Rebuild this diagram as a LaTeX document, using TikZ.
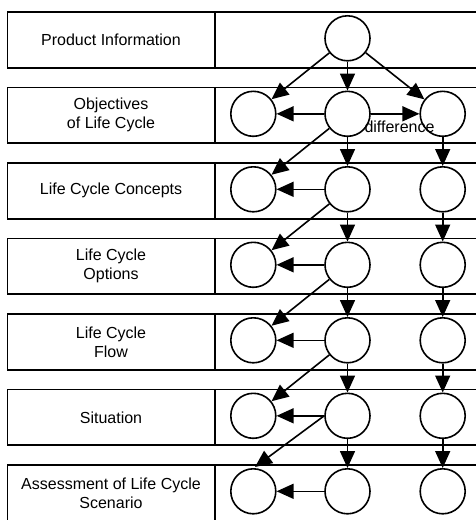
\documentclass[tikz,border=0pt]{standalone}
\usepackage{fontspec}
\setmainfont{Liberation Sans}
\usetikzlibrary{arrows.meta}
\begin{document}
\begin{tikzpicture}[x=1pt,y=-1pt,
  rowbox/.style={draw,line width=1.6pt},
  stage/.style={draw,circle,line width=1.6pt,minimum size=45pt,inner sep=0pt},
  flow/.style={line width=1.6pt,-{Triangle[length=17pt,width=15pt]}},
  lbl/.style={align=center,inner sep=0pt,font=\fontsize{16}{19}\selectfont}]
\useasboundingbox (0,0) rectangle (476,520);
\clip (0,0) rectangle (476,520);

% row frames: label cell on the left, open-ended cell on the right
\foreach \t in {12,87.5,163,238.5,314,389.5,465} {
  \draw[rowbox] (7.5,\t) rectangle (480,\t+55.7);
  \draw[rowbox] (215,\t) -- (215,\t+55.7);
}

% row labels
\node[lbl] (l1) at (111,39.8) {Product Information};
\node[lbl] (l2) at (111,115.3) {Objectives\\of Life Cycle};
\node[lbl] (l3) at (111,190.8) {Life Cycle Concepts};
\node[lbl] (l4) at (111,266.3) {Life Cycle\\Options};
\node[lbl] (l5) at (111,341.8) {Life Cycle\\Flow};
\node[lbl] (l6) at (111,417.3) {Situation};
\node[lbl] (l7) at (111,492.8) {Assessment of Life Cycle\\Scenario};

% stage circles
\node[stage] (c12) at (347.5,38.3) {};
\foreach \r/\y in {2/113.8,3/189.3,4/264.8,5/340.3,6/415.8,7/491.3} {
  \node[stage] (c\r1) at (253.3,\y) {};
  \node[stage] (c\r2) at (347.5,\y) {};
  \node[stage] (c\r3) at (442.7,\y) {};
}

% connections
\draw[flow] (c12) -- (c21);
\draw[flow] (c12) -- (c22);
\draw[flow] (c12) -- (c23);
\draw[flow] (c22) -- (c23);
\foreach \r in {2,...,7} {
  \draw[flow] (c\r2) -- (c\r1);
}
\foreach \r/\n in {2/3,3/4,4/5,5/6,6/7} {
  \draw[flow] (c\r2) -- (c\n2);
  \draw[flow] (c\r3) -- (c\n3);
}
\foreach \r/\n in {2/3,3/4,4/5,5/6} {
  \draw[flow] (c\r2) -- (c\n1);
}
\coordinate (lastin) at (255,467);
\draw[flow] (c62.west) -- (lastin);

\node[lbl] (diff) at (399.5,127) {difference};
\end{tikzpicture}
\end{document}
